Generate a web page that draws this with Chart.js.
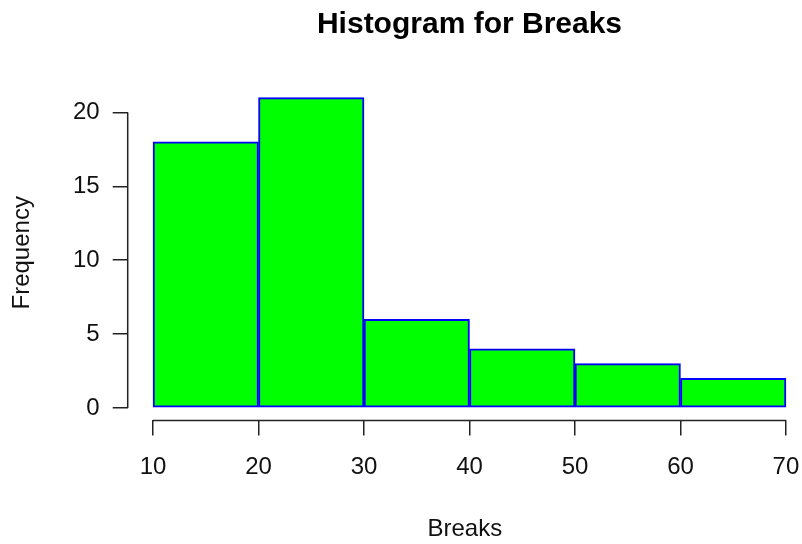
<!DOCTYPE html>
<html>
<head>
<meta charset="utf-8">
<script src="https://cdn.jsdelivr.net/npm/chart.js@4/dist/chart.umd.min.js"></script>
<style>
  html, body { margin: 0; padding: 0; background: #ffffff; }
  #wrap { width: 802px; height: 544px; position: relative; }
  canvas { display: block; }
</style>
</head>
<body>
<div id="wrap"><canvas id="c" width="802" height="544"></canvas></div>
<script>
// ---- Data ----
const binStarts = [10, 20, 30, 40, 50, 60];
const binWidth = 10;
const frequencies = [18, 21, 6, 4, 3, 2];
const xTickValues = [10, 20, 30, 40, 50, 60, 70];
const yTickValues = [0, 5, 10, 15, 20];
const chartTitle = 'Histogram for Breaks';
const xTitle = 'Breaks';
const yTitle = 'Frequency';

const FONT = "'Liberation Sans', Arial, Helvetica, sans-serif";
const AXIS_COLOR = '#222222';

// R-style axis lines spanning first..last tick, plus main title
const rAxesPlugin = {
  id: 'rAxes',
  afterDraw(chart) {
    const ctx = chart.ctx;
    const xs = chart.scales.x, ys = chart.scales.y;
    const area = chart.chartArea;
    ctx.save();
    ctx.strokeStyle = AXIS_COLOR;
    ctx.lineWidth = 1.5;
    // x axis
    const xa = xs.getPixelForValue(xTickValues[0]);
    const xb = xs.getPixelForValue(xTickValues[xTickValues.length - 1]);
    ctx.beginPath();
    ctx.moveTo(xa, area.bottom);
    ctx.lineTo(xb, area.bottom);
    ctx.stroke();
    // y axis
    const ya = ys.getPixelForValue(yTickValues[0]);
    const yb = ys.getPixelForValue(yTickValues[yTickValues.length - 1]);
    ctx.beginPath();
    ctx.moveTo(area.left, ya);
    ctx.lineTo(area.left, yb);
    ctx.stroke();
    // title, centred over the R plot region
    const xMinPlot = 7.6, xMaxPlot = 72.4;
    const cx = (xs.getPixelForValue(xMinPlot) + xs.getPixelForValue(xMaxPlot)) / 2;
    ctx.fillStyle = '#000000';
    ctx.font = "bold 30px " + FONT;
    ctx.textAlign = 'center';
    ctx.textBaseline = 'middle';
    ctx.fillText(chartTitle, cx, 25);
    ctx.restore();
  }
};

const barData = binStarts.map((s, i) => ({ x: s + binWidth / 2, y: frequencies[i] }));

new Chart(document.getElementById('c'), {
  type: 'bar',
  data: {
    datasets: [{
      label: yTitle,
      data: barData,
      backgroundColor: '#00ff00',
      borderColor: '#0000ff',
      borderWidth: 2,
      borderSkipped: false,
      barPercentage: 1.0,
      categoryPercentage: 1.0
    }]
  },
  options: {
    responsive: false,
    animation: false,
    devicePixelRatio: 1,
    layout: { padding: { top: 85.2, left: 0, right: 0, bottom: 0 } },
    plugins: {
      legend: { display: false },
      tooltip: { enabled: false },
      title: { display: false }
    },
    scales: {
      x: {
        type: 'linear',
        offset: false,
        min: 7.6,
        max: 71.52,
        afterBuildTicks(scale) { scale.ticks = xTickValues.map(v => ({ value: v })); },
        afterFit(scale) {
          scale.height = 544 - 420.4;
          scale.paddingLeft = 0;
          scale.paddingRight = 0;
        },
        grid: { display: true, offset: false, drawOnChartArea: false, drawTicks: true, tickLength: 15, color: AXIS_COLOR, lineWidth: 1.5 },
        border: { display: false },
        ticks: {
          color: '#111111',
          font: { family: FONT, size: 24 },
          padding: 18,
          maxRotation: 0,
          autoSkip: false
        },
        title: {
          display: true,
          text: xTitle,
          color: '#111111',
          font: { family: FONT, size: 24 },
          padding: { top: 0, bottom: 0 }
        }
      },
      y: {
        type: 'linear',
        min: -0.84,
        max: 21.84,
        afterBuildTicks(scale) { scale.ticks = yTickValues.map(v => ({ value: v })); },
        afterFit(scale) {
          scale.width = 127.7;
          scale.paddingTop = 0;
          scale.paddingBottom = 0;
        },
        grid: { display: true, drawOnChartArea: false, drawTicks: true, tickLength: 15, color: AXIS_COLOR, lineWidth: 1.5 },
        border: { display: false },
        ticks: {
          color: '#111111',
          font: { family: FONT, size: 24 },
          padding: 13,
          autoSkip: false
        },
        title: {
          display: true,
          text: yTitle,
          color: '#111111',
          font: { family: FONT, size: 24 },
          padding: { top: 8, bottom: 0 }
        }
      }
    }
  },
  plugins: [rAxesPlugin]
});
</script>
</body>
</html>
